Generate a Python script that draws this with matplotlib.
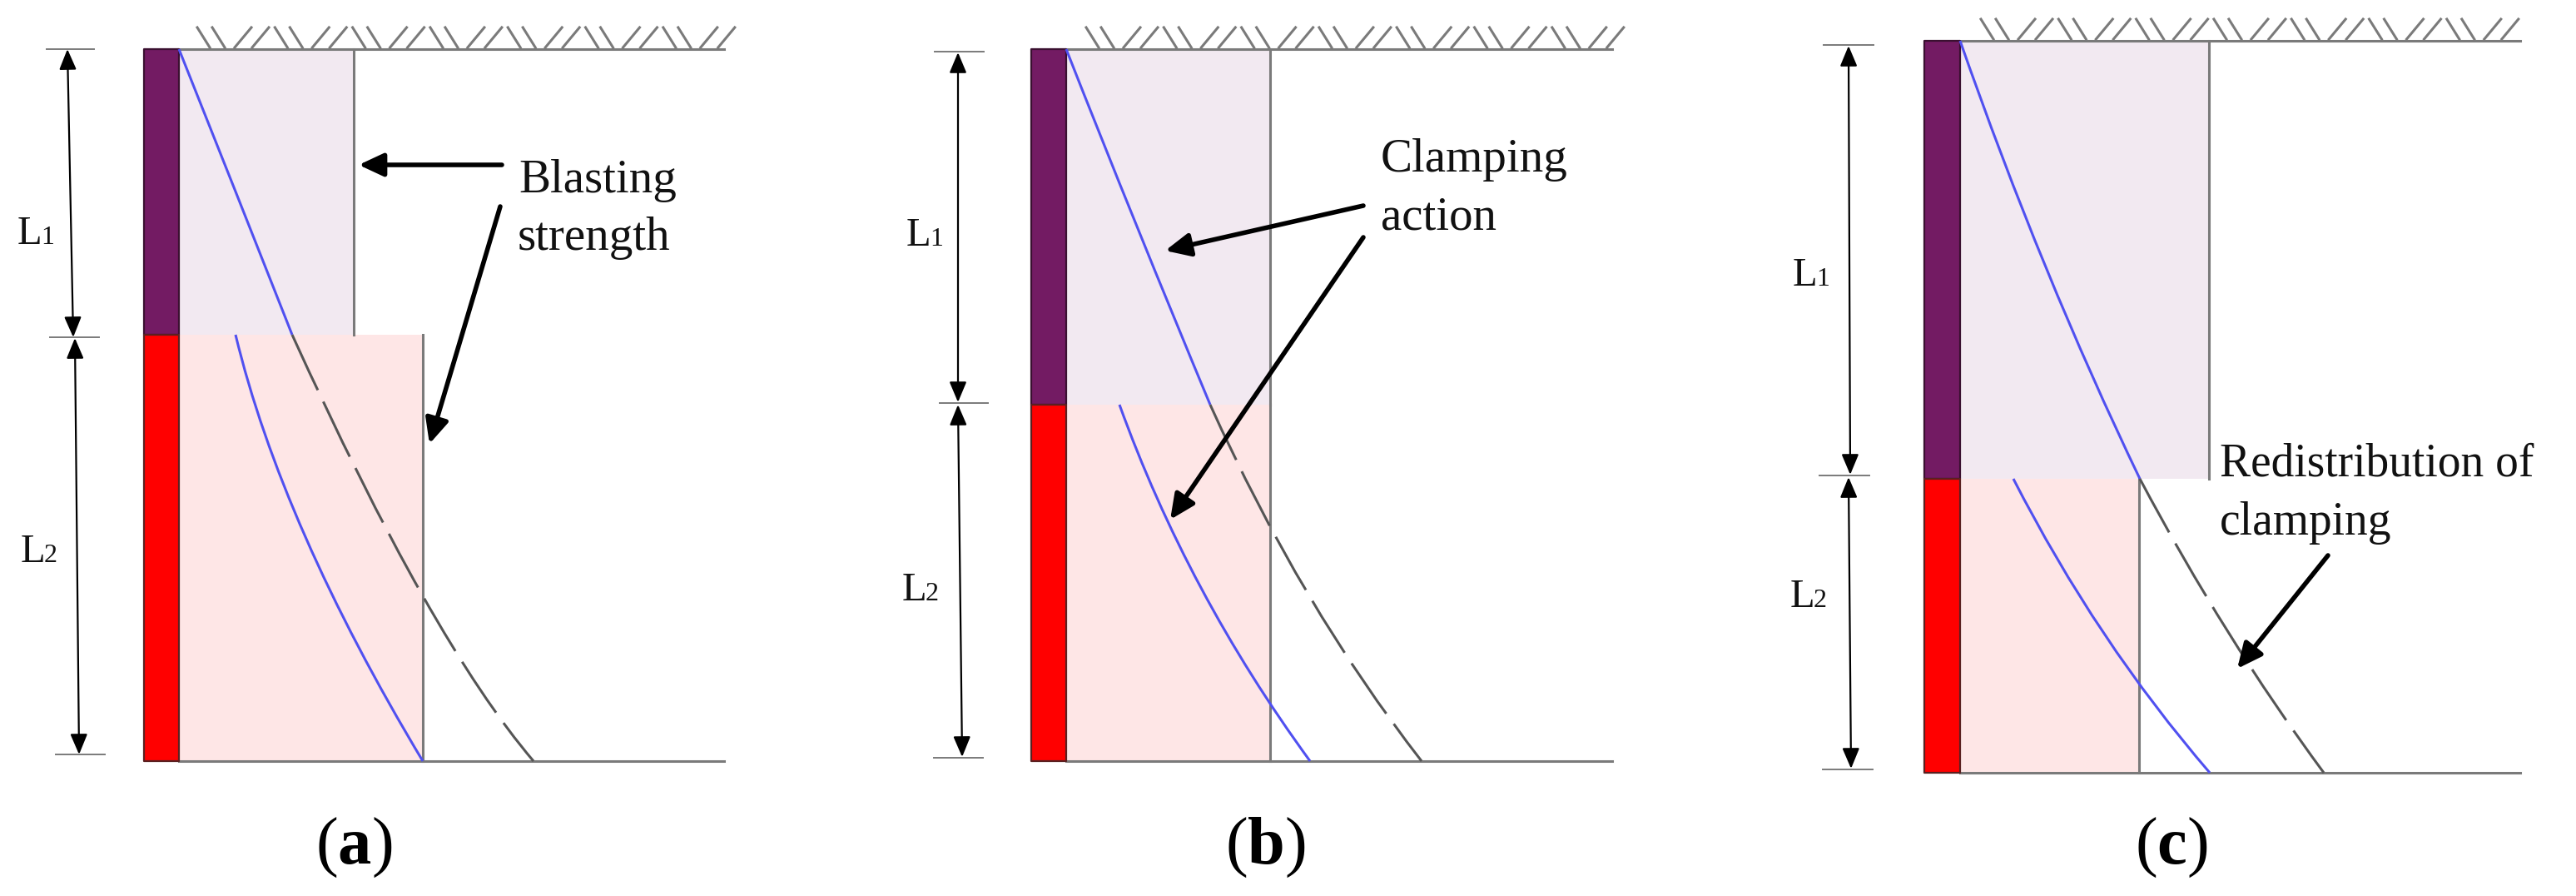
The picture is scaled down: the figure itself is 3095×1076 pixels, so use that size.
import matplotlib
matplotlib.use("Agg")
import matplotlib.pyplot as plt
from matplotlib.path import Path
from matplotlib.patches import PathPatch

plt.rcParams['font.family'] = ['Liberation Serif', 'DejaVu Serif']
plt.rcParams['mathtext.fontset'] = 'custom'
plt.rcParams['mathtext.rm'] = 'Liberation Serif'
plt.rcParams['mathtext.bf'] = 'Liberation Serif:bold'

PURPLE, RED = '#731B63', '#FF0000'
LILAC, PINK = '#F2E9F1', '#FEE6E6'
GREY, BLUE, DASH = '#7A7A7A', '#5050F0', '#555555'

# panel geometry: wall left, wall right, top, interface, bottom, ground end, hatch start
walls = [(173, 215, 59, 402, 914, 870, 237),
         (1239, 1281, 59, 486, 914, 1937, 1305),
         (2312, 2355, 49, 575, 928, 3028, 2380)]
upper_right = [425, 1526, 2654]
lower_right = [508, 1526, 2570]

# each curve: start, a point read on the curve, end
blue_upper = [
    [(215, 59), (283, 230), (351, 402)],
    [(1281, 59), (1366, 272), (1454, 486)],
    [(2355, 49), (2458, 321), (2571, 575)],
]
blue_lower = [
    [(283, 402), (367, 645), (508, 914)],
    [(1345, 486), (1443, 706), (1574, 914)],
    [(2419, 575), (2528, 761), (2655, 928)],
]
dashed = [
    [(351, 402), (507, 714), (641, 914)],
    [(1454, 486), (1572, 714), (1708, 914)],
    [(2571, 575), (2677, 759), (2792, 928)],
]
dim_arrows = [
    [((81, 59), (88, 405)), ((90, 406), (95, 906))],
    [((1151, 63), (1151, 483)), ((1151, 486), (1156, 909))],
    [((2221, 55), (2223, 570)), ((2221, 573), (2224, 923))],
]
dim_ticks = [
    [(56, 113, 59), (60, 119, 405), (67, 126, 906)],
    [(1123, 1182, 62), (1129, 1187, 484), (1122, 1181, 910)],
    [(2191, 2251, 54), (2186, 2246, 571), (2190, 2250, 924)],
]
L_labels = [
    [(21, 293, '1'), (25, 675, '2')],
    [(1089, 295, '1'), (1084, 721, '2')],
    [(2154, 343, '1'), (2151, 729, '2')],
]
callouts = [
    [((603, 198), (431, 198)), ((601, 248), (516, 533))],
    [((1638, 247), (1400, 301)), ((1638, 285), (1406, 624))],
    [((2797, 667), (2688, 803))],
]
texts = [
    [(623, 231, 'Blasting'), (622, 300, 'strength')],
    [(1659, 206, 'Clamping'), (1659, 276, 'action')],
    [(2667, 572, 'Redistribution of'), (2667, 642, 'clamping')],
]
panel_labels = [(425, 1037, r'($\mathbf{a}$)'), (1520, 1037, r'($\mathbf{b}$)'), (2609, 1037, r'($\mathbf{c}$)')]

# hatch strokes relative to a hatch group start, repeated along the ground
hatch_dirs = [0, 18, 45, 66]
hatch_period = 93.3

fig = plt.figure(figsize=(30.95, 10.76), dpi=100)
ax = fig.add_axes([0, 0, 1, 1])
ax.set_xlim(0, 3095)
ax.set_ylim(1076, 0)
ax.axis('off')

LW = 2.2


def curve(points, **kw):
    p0, m, p2 = points
    c = (2 * m[0] - (p0[0] + p2[0]) / 2, 2 * m[1] - (p0[1] + p2[1]) / 2)
    ax.add_patch(PathPatch(Path([p0, c, p2], [Path.MOVETO, Path.CURVE3, Path.CURVE3]),
                           fill=False, **kw))


for i, (xl, xr, yt, ym, yb, xe, hs) in enumerate(walls):
    ax.fill_between([xr, upper_right[i]], yt, ym, color=LILAC, lw=0, zorder=1)
    ax.fill_between([xr, lower_right[i]], ym, yb, color=PINK, lw=0, zorder=1)
    ax.fill_between([xl, xr], yt, ym, facecolor=PURPLE, edgecolor='#3A1030', lw=1.6, zorder=3)
    ax.fill_between([xl, xr], ym, yb, facecolor=RED, edgecolor='#5A2020', lw=1.6, zorder=3)
    ax.plot([xr, xe], [yt, yt], color=GREY, lw=LW, zorder=2)
    ax.plot([xr, xe], [yb, yb], color=GREY, lw=LW, zorder=2)
    ax.plot([upper_right[i]] * 2, [yt, ym], color=GREY, lw=LW, zorder=2)
    ax.plot([lower_right[i]] * 2, [ym, yb], color=GREY, lw=LW, zorder=2)
    # ground hatching
    for k in range(7):
        x0 = hs + k * hatch_period
        for d, off in enumerate(hatch_dirs):
            x = x0 + off
            if d < 2:
                ax.plot([x, x + 15], [yt - 26, yt - 2], color=GREY, lw=LW, zorder=2)
            else:
                ax.plot([x, x + 20], [yt - 2, yt - 26], color=GREY, lw=LW, zorder=2)
    curve(blue_upper[i], edgecolor=BLUE, lw=LW, zorder=4)
    curve(blue_lower[i], edgecolor=BLUE, lw=LW, zorder=4)
    curve(dashed[i], edgecolor=DASH, lw=LW, linestyle=(0, (24, 5)), zorder=4)
    for x0, x1, y in dim_ticks[i]:
        ax.plot([x0, x1], [y, y], color=GREY, lw=1.4, zorder=2)
    for a, b in dim_arrows[i]:
        ax.annotate('', xy=b, xytext=a, zorder=5,
                    arrowprops=dict(arrowstyle='<|-|>,head_length=1.0,head_width=0.42', color='black',
                                    lw=1.6, shrinkA=0, shrinkB=0, mutation_scale=15))
    for a, b in callouts[i]:
        ax.annotate('', xy=b, xytext=a, zorder=5,
                    arrowprops=dict(arrowstyle='-|>,head_length=0.9,head_width=0.42', color='black',
                                    lw=4.0, shrinkA=0, shrinkB=0, mutation_scale=20))
    for x, y, digit in L_labels[i]:
        ax.text(x, y, 'L', fontsize=35, ha='left', va='baseline', color='#111111')
        ax.text(x + 28, y, digit, fontsize=23, ha='left', va='baseline', color='#111111')
    for x, y, s in texts[i]:
        fs = 40 if i == 2 else 41
        ax.text(x, y, s, fontsize=fs, ha='left', va='baseline', color='#111111')
    x, y, s = panel_labels[i]
    ax.text(x, y, s, fontsize=58, ha='center', va='baseline', color='black')

fig.savefig('out.png', dpi=100, facecolor='white')
